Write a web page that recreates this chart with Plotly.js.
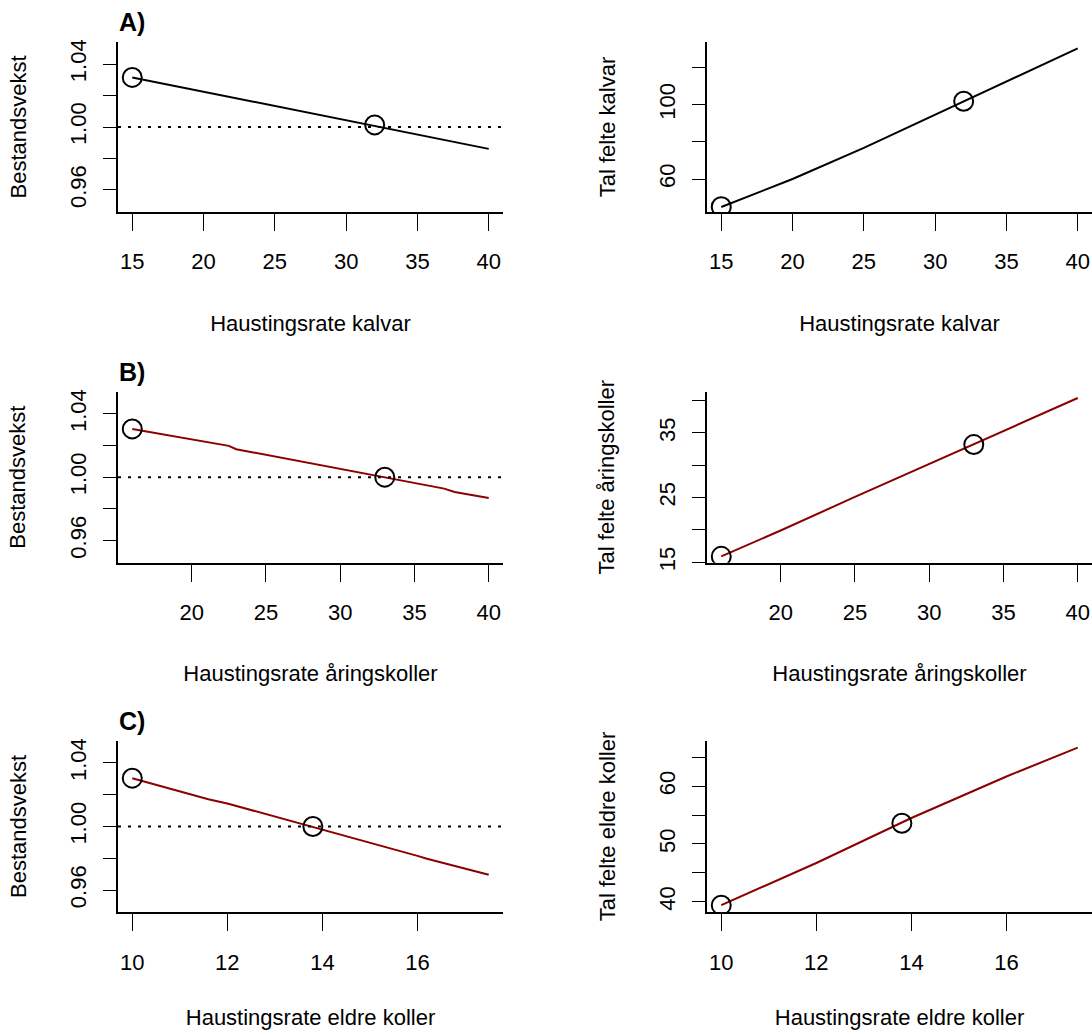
<!DOCTYPE html>
<html><head><meta charset="utf-8">
<script src="https://cdn.plot.ly/plotly-3.0.1.min.js"></script>
<style>html,body{margin:0;padding:0;background:#fff}#chart{width:1092px;height:1030px}</style>
</head><body><div id="chart"></div>
<script>
// ---- text ----
const panelLabels = ["A)", "B)", "C)"];
const xTitles = ["Haustingsrate kalvar", "Haustingsrate åringskoller", "Haustingsrate eldre koller"];
const yTitleLeft = "Bestandsvekst";
const yTitlesRight = ["Tal felte kalvar", "Tal felte åringskoller", "Tal felte eldre koller"];

// ---- A) kalvar ----
const kalvRate = [15, 20, 25, 30, 35, 40];
const kalvGrowth = [1.0315, 1.0224, 1.0133, 1.0040, 0.9950, 0.9861];
const kalvHarvest = [45.0, 60.0, 76.7, 94.5, 112.7, 130.2];
const kalvPointRate = [15, 32];
const kalvPointGrowth = [1.0315, 1.0013];
const kalvPointHarvest = [45.1, 101.8];

// ---- B) åringskoller ----
const aringRate = [16, 20, 22.5, 23, 25, 30, 35, 37, 37.7, 40];
const aringGrowth = [1.0305, 1.0239, 1.0198, 1.0177, 1.0141, 1.0052, 0.9964, 0.9928, 0.9907, 0.9869];
const aringHarvestRate = [16, 20, 25, 30, 35, 40];
const aringHarvest = [15.9, 19.9, 25.1, 30.2, 35.3, 40.4];
const aringPointRate = [16, 33];
const aringPointGrowth = [1.0305, 1.0000];
const aringPointHarvest = [15.9, 33.2];

// ---- C) eldre koller ----
const eldreRate = [10, 11.6, 12, 14, 14.8, 16, 16.2, 17.5];
const eldreGrowth = [1.0304, 1.0172, 1.0145, 0.9982, 0.9912, 0.9815, 0.9797, 0.9696];
const eldreHarvestRate = [10, 12, 14, 16, 17.5];
const eldreHarvest = [39.4, 46.7, 54.5, 61.7, 66.7];
const eldrePointRate = [10, 13.8];
const eldrePointGrowth = [1.0304, 1.0000];
const eldrePointHarvest = [39.4, 53.6];

// ---- reference level and ticks ----
const refLevel = 1;
const xTicksA = [15, 20, 25, 30, 35, 40];
const xTicksB = [20, 25, 30, 35, 40];
const xTicksC = [10, 12, 14, 16];
const yTicksGrowth = [0.96, 0.98, 1.00, 1.02, 1.04];
const yLabelsGrowth = ["0.96", "", "1.00", "", "1.04"];
const yTicksA = [60, 80, 100, 120];
const yLabelsA = ["60", "", "100", ""];
const yTicksB = [15, 20, 25, 30, 35, 40];
const yLabelsB = ["15", "", "25", "", "35", ""];
const yTicksC = [40, 45, 50, 55, 60, 65];
const yLabelsC = ["40", "", "50", "", "60", ""];

// ---- styling / layout ----
const FONT = "Liberation Sans, Arial, Helvetica, sans-serif";
const DARKRED = "#8B0000";
const W = 1092, H = 1030;
const px = v => v / W;
const py = v => 1 - v / H;
const colL = [px(118), px(503)];
const colR = [px(707), 1];
const rows = [[py(212), py(42)], [py(562.7), py(391.7)], [py(912.3), py(740.7)]];

function xAxis(domain, range, ticks, title, anchor) {
  return {
    domain, range, anchor,
    tickmode: 'array', tickvals: ticks, ticktext: ticks.map(String),
    ticks: 'outside', ticklen: 17, tickwidth: 1, tickcolor: '#000',
    showline: true, linewidth: 2, linecolor: '#000',
    showgrid: false, zeroline: false, fixedrange: true,
    tickfont: {family: FONT, size: 22, color: '#000'},
    ticklabelstandoff: 12,
    title: {text: title, font: {family: FONT, size: 22, color: '#000'}, standoff: 42}
  };
}
function yAxis(domain, range, ticks, labels, title, anchor) {
  return {
    domain, range, anchor,
    tickmode: 'array', tickvals: ticks, ticktext: labels,
    ticks: 'outside', ticklen: 13, tickwidth: 1, tickcolor: '#000',
    showline: true, linewidth: 2, linecolor: '#000',
    showgrid: false, zeroline: false, fixedrange: true,
    tickangle: -90,
    tickfont: {family: FONT, size: 22, color: '#000'},
    ticklabelstandoff: 8,
    title: {text: title, font: {family: FONT, size: 22, color: '#000'}, standoff: 34}
  };
}

function lineTrace(x, y, color, xa, ya) {
  return {x, y, xaxis: xa, yaxis: ya, type: 'scatter', mode: 'lines',
          line: {color, width: 2}, hoverinfo: 'skip', showlegend: false};
}
function pointTrace(x, y, xa, ya) {
  return {x, y, xaxis: xa, yaxis: ya, type: 'scatter', mode: 'markers',
          marker: {symbol: 'circle-open', size: 19, color: '#000', line: {width: 2, color: '#000'}},
          hoverinfo: 'skip', showlegend: false, cliponaxis: true};
}

const data = [
  lineTrace(kalvRate, kalvGrowth, '#000', 'x', 'y'),
  pointTrace(kalvPointRate, kalvPointGrowth, 'x', 'y'),
  lineTrace(kalvRate, kalvHarvest, '#000', 'x2', 'y2'),
  pointTrace(kalvPointRate, kalvPointHarvest, 'x2', 'y2'),
  lineTrace(aringRate, aringGrowth, DARKRED, 'x3', 'y3'),
  pointTrace(aringPointRate, aringPointGrowth, 'x3', 'y3'),
  lineTrace(aringHarvestRate, aringHarvest, DARKRED, 'x4', 'y4'),
  pointTrace(aringPointRate, aringPointHarvest, 'x4', 'y4'),
  lineTrace(eldreRate, eldreGrowth, DARKRED, 'x5', 'y5'),
  pointTrace(eldrePointRate, eldrePointGrowth, 'x5', 'y5'),
  lineTrace(eldreHarvestRate, eldreHarvest, DARKRED, 'x6', 'y6'),
  pointTrace(eldrePointRate, eldrePointHarvest, 'x6', 'y6')
];

const growthRange = [0.946, 1.054];
const layout = {
  width: W, height: H,
  margin: {l: 0, r: 0, t: 0, b: 0},
  paper_bgcolor: '#fff', plot_bgcolor: '#fff',
  font: {family: FONT, color: '#000'},
  hovermode: false,
  xaxis:  xAxis(colL, [14, 41], xTicksA, xTitles[0], 'y'),
  yaxis:  yAxis(rows[0], growthRange, yTicksGrowth, yLabelsGrowth, yTitleLeft, 'x'),
  xaxis2: xAxis(colR, [14, 41], xTicksA, xTitles[0], 'y2'),
  yaxis2: yAxis(rows[0], [42.3, 133.6], yTicksA, yLabelsA, yTitlesRight[0], 'x2'),
  xaxis3: xAxis(colL, [15.04, 40.96], xTicksB, xTitles[1], 'y3'),
  yaxis3: yAxis(rows[1], growthRange, yTicksGrowth, yLabelsGrowth, yTitleLeft, 'x3'),
  xaxis4: xAxis(colR, [15.04, 40.96], xTicksB, xTitles[1], 'y4'),
  yaxis4: yAxis(rows[1], [14.92, 41.38], yTicksB, yLabelsB, yTitlesRight[1], 'x4'),
  xaxis5: xAxis(colL, [9.7, 17.8], xTicksC, xTitles[2], 'y5'),
  yaxis5: yAxis(rows[2], growthRange, yTicksGrowth, yLabelsGrowth, yTitleLeft, 'x5'),
  xaxis6: xAxis(colR, [9.7, 17.8], xTicksC, xTitles[2], 'y6'),
  yaxis6: yAxis(rows[2], [38.16, 67.9], yTicksC, yLabelsC, yTitlesRight[2], 'x6'),
  shapes: ['', '3', '5'].map(s => ({
    type: 'line', xref: 'x' + s + ' domain', yref: 'y' + s,
    x0: 0, x1: 1, y0: refLevel, y1: refLevel,
    line: {color: '#000', width: 2, dash: '3px,7px'}
  })),
  annotations: panelLabels.map((t, i) => ({
    text: '<b>' + t + '</b>', xref: 'paper', yref: 'paper',
    x: px(117), y: py([22, 371.7, 720.7][i]),
    xanchor: 'left', yanchor: 'middle', showarrow: false,
    font: {family: FONT, size: 25, color: '#000'}
  }))
};

Plotly.newPlot('chart', data, layout, {displayModeBar: false, staticPlot: true});
</script>
</body></html>
